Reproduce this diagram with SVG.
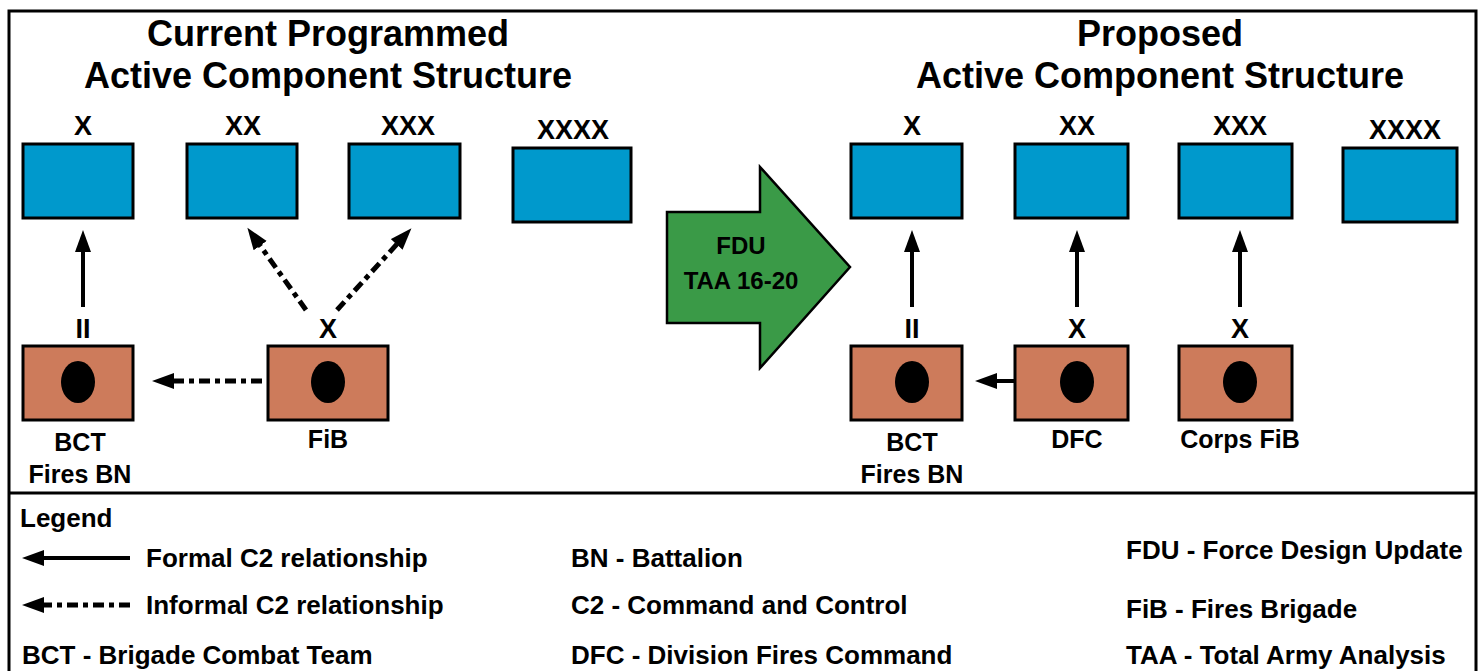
<svg xmlns="http://www.w3.org/2000/svg" width="1482" height="671" viewBox="0 0 1482 671">
<style>
text{font-family:"Liberation Sans",Arial,sans-serif;font-weight:bold;fill:#000}
.title{font-size:36px;text-anchor:middle}
.lvl{font-size:27px;text-anchor:middle}
.lbl{font-size:25px;text-anchor:middle}
.fdu{font-size:24px;text-anchor:middle}
.leg{font-size:26px}
.blue{fill:#0099cc;stroke:#000;stroke-width:3}
.brown{fill:#cd7b5b;stroke:#000;stroke-width:3}
.solid{stroke:#000;stroke-width:4;fill:none}
.dash{stroke:#000;stroke-width:5;fill:none;stroke-dasharray:11 5 5 5}
</style>
<defs>
<marker id="ah" markerUnits="userSpaceOnUse" markerWidth="24" markerHeight="18" refX="2" refY="8" orient="auto">
<path d="M0,0 L22,8 L0,16 z" fill="#000"/>
</marker>
</defs>
<rect x="0" y="0" width="1482" height="671" fill="#fff"/>
<path d="M9,673 V11 H1476 V673" fill="none" stroke="#000" stroke-width="3"/>
<line x1="9" y1="493" x2="1476" y2="493" stroke="#000" stroke-width="3"/>

<g id="titles">
<text class="title" x="328" y="46">Current Programmed</text>
<text class="title" x="328" y="88">Active Component Structure</text>
<text class="title" x="1160" y="46">Proposed</text>
<text class="title" x="1160" y="88">Active Component Structure</text>
</g>

<g id="cur-x"><text class="lvl" x="83" y="135">X</text><rect class="blue" x="23" y="144" width="110" height="74"/></g>
<g id="cur-xx"><text class="lvl" x="243" y="135">XX</text><rect class="blue" x="187" y="144" width="110" height="74"/></g>
<g id="cur-xxx"><text class="lvl" x="408" y="135">XXX</text><rect class="blue" x="349" y="144" width="111" height="74"/></g>
<g id="cur-xxxx"><text class="lvl" x="573" y="139">XXXX</text><rect class="blue" x="513" y="148" width="118" height="74"/></g>

<g id="cur-bct"><text class="lvl" x="83" y="338">II</text><rect class="brown" x="23" y="346" width="110" height="74"/><ellipse cx="78" cy="382" rx="17" ry="21"/><text class="lbl" x="80" y="451">BCT</text><text class="lbl" x="80" y="483">Fires BN</text></g>
<g id="cur-fib"><text class="lvl" x="328" y="338">X</text><rect class="brown" x="268" y="346" width="120" height="74"/><ellipse cx="328" cy="382" rx="17" ry="21"/><text class="lbl" x="328" y="448">FiB</text></g>

<g id="fdu">
<polygon points="667,212 760,212 760,167 850,267 760,368 760,323 667,323" fill="#3a9a47" stroke="#000" stroke-width="2.5"/>
<text class="fdu" x="741" y="254">FDU</text>
<text class="fdu" x="741" y="289">TAA 16-20</text>
</g>

<g id="new-x"><text class="lvl" x="912" y="135">X</text><rect class="blue" x="851" y="144" width="111" height="74"/></g>
<g id="new-xx"><text class="lvl" x="1077" y="135">XX</text><rect class="blue" x="1015" y="144" width="113" height="74"/></g>
<g id="new-xxx"><text class="lvl" x="1240" y="135">XXX</text><rect class="blue" x="1179" y="144" width="113" height="74"/></g>
<g id="new-xxxx"><text class="lvl" x="1405" y="139">XXXX</text><rect class="blue" x="1343" y="148" width="114" height="74"/></g>

<g id="new-bct"><text class="lvl" x="912" y="338">II</text><rect class="brown" x="851" y="346" width="111" height="74"/><ellipse cx="912" cy="382" rx="17" ry="21"/><text class="lbl" x="912" y="451">BCT</text><text class="lbl" x="912" y="483">Fires BN</text></g>
<g id="new-dfc"><text class="lvl" x="1077" y="338">X</text><rect class="brown" x="1015" y="346" width="113" height="74"/><ellipse cx="1077" cy="382" rx="17" ry="21"/><text class="lbl" x="1077" y="448">DFC</text></g>
<g id="new-corpsfib"><text class="lvl" x="1240" y="338">X</text><rect class="brown" x="1179" y="346" width="113" height="74"/><ellipse cx="1240" cy="382" rx="17" ry="21"/><text class="lbl" x="1240" y="448">Corps FiB</text></g>

<g id="connectors">
<line class="solid" x1="83" y1="307" x2="83" y2="250" marker-end="url(#ah)"/>
<path class="dash" d="M306,310 L259,244" marker-end="url(#ah)"/>
<path class="dash" d="M337,310 L398,243" marker-end="url(#ah)"/>
<line class="dash" x1="262" y1="381" x2="172" y2="381" marker-end="url(#ah)"/>
<line class="solid" x1="912" y1="307" x2="912" y2="250" marker-end="url(#ah)"/>
<line class="solid" x1="1077" y1="307" x2="1077" y2="250" marker-end="url(#ah)"/>
<line class="solid" x1="1240" y1="307" x2="1240" y2="250" marker-end="url(#ah)"/>
<line class="solid" x1="1014" y1="381" x2="995" y2="381" marker-end="url(#ah)"/>
</g>

<g id="legend">
<text class="leg" x="20" y="527">Legend</text>
<line class="solid" x1="130" y1="558" x2="42" y2="558" marker-end="url(#ah)"/>
<text class="leg" x="146" y="567">Formal C2 relationship</text>
<line class="dash" x1="130" y1="605" x2="42" y2="605" marker-end="url(#ah)"/>
<text class="leg" x="146" y="614">Informal C2 relationship</text>
<text class="leg" x="22" y="664">BCT - Brigade Combat Team</text>
<text class="leg" x="571" y="567">BN - Battalion</text>
<text class="leg" x="571" y="614">C2 - Command and Control</text>
<text class="leg" x="571" y="664">DFC - Division Fires Command</text>
<text class="leg" x="1126" y="559">FDU - Force Design Update</text>
<text class="leg" x="1126" y="618">FiB - Fires Brigade</text>
<text class="leg" x="1126" y="664">TAA - Total Army Analysis</text>
</g>
</svg>
